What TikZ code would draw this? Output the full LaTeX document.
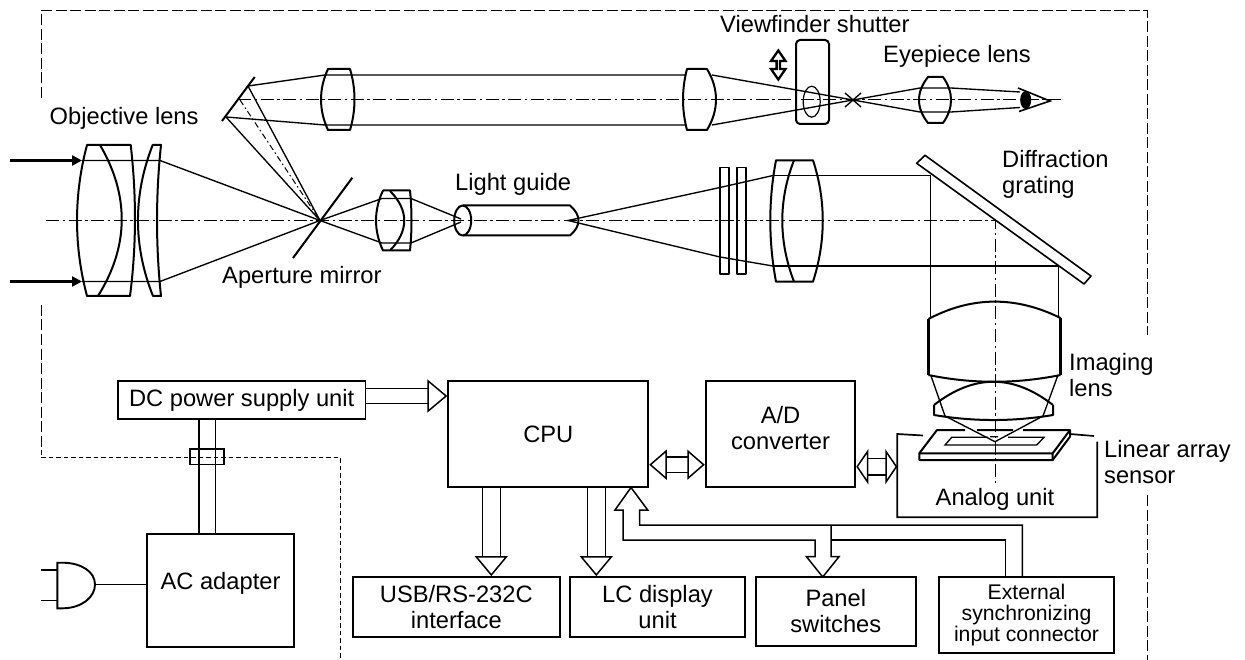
\documentclass[tikz,border=0pt]{standalone}
\usepackage{fontspec}
\setmainfont{Liberation Sans}
\usetikzlibrary{calc, arrows.meta}

\tikzset{
  label/.style={inner sep=0pt, align=left, font=\fontsize{23.7}{26}\selectfont},
  blockbox/.style={draw, line width=1.9pt, inner sep=0pt, align=center, font=\fontsize{23.7}{26}\selectfont},
  lensline/.style={line width=2pt, line join=round},
  ray/.style={line width=1.35pt},
  axisline/.style={line width=1pt, dash pattern=on 13pt off 3.5pt on 2.5pt off 3.5pt},
  longdash/.style={line width=1pt, dash pattern=on 11pt off 3.5pt},
  shortdash/.style={line width=1pt, dash pattern=on 4.5pt off 3pt},
  busline/.style={line width=1.5pt, double=white, double distance=#1},
  bustip/.tip={Triangle[length=20pt, width=33pt, line width=1.5pt, fill=white]},
  sidetip/.tip={Triangle[length=17.5pt, width=30pt, line width=1.5pt, fill=white]},
  shorttip/.tip={Triangle[length=12pt, width=35pt, line width=1.5pt, fill=white]},
}

\begin{document}
\begin{tikzpicture}[x=1pt, y=-1pt]

  \useasboundingbox (0,0) rectangle (1245,660);

  % --- Axes optiques ---
  \pgfmathsetmacro{\axisy}{220.5}
  \pgfmathsetmacro{\viewy}{99.5}

  % --- Enveloppe en tirets ---
  \draw[longdash] (41,98) -- (41,11) -- (1147,11) -- (1147,335);
  \draw[longdash] (1147,495) -- (1147,660);
  \draw[longdash] (41,305) -- (41,455);
  \draw[shortdash] (41,457) -- (340,457) -- (340,660);

  \draw[axisline] (46,\axisy) -- (995,\axisy) -- (995,484);
  \draw[axisline] (238,\viewy) -- (1062,\viewy);
  \draw[line width=1pt, dash pattern=on 6pt off 3pt on 1.5pt off 3pt] (240,100) -- (320,\axisy);

  % --- Faisceaux d'entree ---
  \draw[line width=2.4pt, -{Triangle[length=10pt, width=10pt]}] (10,160.5) -- (82,160.5);
  \draw[line width=2.4pt, -{Triangle[length=10pt, width=10pt]}] (10,281.5) -- (82,281.5);
  \draw[ray] (82,160.5) -- (160,160.5) -- (320,\axisy) -- (382,243) -- (411,243) -- (461,222);
  \draw[ray] (82,281.5) -- (160,281.5) -- (320,\axisy) -- (382,198.5) -- (411,198.5) -- (461,219);

  % --- Objectif ---
  \draw[lensline] (87,145) .. controls (73.7,195) and (73.7,246) .. (87,296) -- (130,296)
    .. controls (136.5,246) and (136.5,195) .. (130.7,145) -- cycle;
  \draw[lensline] (100,145) .. controls (129.3,195) and (129.3,246) .. (98,296);
  \draw[lensline] (152.7,145) .. controls (133,195) and (133,246) .. (153,296) -- (161,296)
    .. controls (155.7,246) and (155.7,195) .. (161,145) -- cycle;

  % --- Miroirs ---
  \draw[lensline] (293,258) -- (352.3,177.7);
  \draw[lensline] (222,121) -- (254.7,77);
  \draw[ray] (320,\axisy) -- (248,86) -- (325,75) -- (685,75);
  \draw[ray] (320,\axisy) -- (226,117) -- (325,125) -- (685,125);

  % --- Viseur ---
  \draw[lensline] (328,69) .. controls (318.7,89) and (318.7,110) .. (328,130) -- (350,130)
    .. controls (356,110) and (356,89) .. (350,69) -- cycle;
  \draw[lensline] (687,69) .. controls (681.7,89) and (681.7,110) .. (687,130) -- (707,130)
    .. controls (719,110) and (719,89) .. (707,69) -- cycle;
  \draw[ray] (712,75) -- (853,100) -- (920,112) -- (951,112) -- (1020,107.5);
  \draw[ray] (712,125) -- (853,100) -- (920,88) -- (951,88) -- (1020,92);
  \draw[ray] (845,93) -- (861,107) (845,107) -- (861,93);
  \draw[lensline, rounded corners=4pt] (796,40) rectangle (829,124);
  \draw[line width=1.2pt] (811.7,101.7) ellipse [x radius=8.5, y radius=15.5];
  \draw[lensline, line width=2.3pt, line join=miter] (778.3,50.5) -- (785.5,61) -- (780,61) -- (780,69) -- (785.5,69) -- (778.3,79.5)
    -- (771,69) -- (776.6,69) -- (776.6,61) -- (771,61) -- cycle;
  \draw[lensline] (928,77) .. controls (916,92) and (916,108) .. (928,123) -- (943,123)
    .. controls (953.7,108) and (953.7,92) .. (943,77) -- cycle;

  % --- Oeil ---
  \draw[ray, line width=1.6pt] (1018,88) -- (1050,101) -- (1019,111.5);
  \fill (1025.7,100) ellipse [x radius=5.5, y radius=9];

  % --- Lentille d'injection et guide de lumiere ---
  \draw[lensline] (383,190.5) .. controls (373.7,210) and (373.7,231) .. (383,250.5) -- (410,250.5)
    .. controls (412,231) and (412,210) .. (410,190.5) -- cycle;
  \draw[lensline] (390,191) .. controls (409,210) and (409,231) .. (390,250.5);
  \draw[lensline] (462.7,220.5) ellipse [x radius=8.5, y radius=15];
  \draw[lensline] (463,205.5) -- (570,205.5) .. controls (581.3,215) and (581.3,226) .. (570,235.5) -- (463,235.5);
  \draw[ray] (773,175.5) -- (720,187.5) -- (568,\axisy) -- (720,257) -- (773,266);

  % --- Filtres et lentille collimatrice ---
  \draw[lensline, line width=1.6pt] (720,167.7) rectangle (729,274);
  \draw[lensline, line width=1.6pt] (736.7,167.7) rectangle (745.7,274);
  \draw[lensline] (776,160.3) .. controls (768.4,200) and (768.4,241) .. (776,281.7) -- (813,281.7)
    .. controls (826,241) and (826,200) .. (813,160.3) -- cycle;
  \draw[lensline] (794,160.3) .. controls (778.4,200) and (778.4,241) .. (794,281.7);
  \draw[ray] (772,175.3) -- (930.7,175.3) -- (930.7,318);
  \draw[ray] (772,266) -- (1058.3,266) -- (1058.3,318);

  % --- Reseau de diffraction ---
  \draw[lensline, fill=white, line width=1.6pt] (925,155.3) -- (916.7,163.3) -- (1084,284) -- (1091,276) -- cycle;

  % --- Lentille de formation d'image ---
  \draw[lensline] (928.5,319) .. controls (972,296) and (1016,296) .. (1060.5,318);
  \draw[lensline] (928.5,375) .. controls (972,384) and (1016,384) .. (1060.5,375);
  \draw[lensline, line width=2.4pt] (928.5,319) -- (928.5,375) (1060.5,318) -- (1060.5,375);
  \draw[lensline] (934,405) .. controls (974,374) and (1013,374) .. (1053,405);
  \draw[lensline] (934,405) -- (934,415) .. controls (974,421.7) and (1013,421.7) .. (1053,415) -- (1053,405);
  \draw[ray] (930.7,375) -- (945,416) -- (995,441.7) -- (1043,416) -- (1058,375);

  % --- Capteur lineaire ---
  \draw[lensline] (965,430) -- (937,430) -- (919.3,453.3) -- (919.3,460) -- (1052.7,460) -- (1070,436.7)
    -- (1070,430) -- (1023,430) (977,430) -- (1013,430);
  \draw[lensline] (919.3,453.3) -- (1052.7,453.3) -- (1070,430) (1052.7,453.3) -- (1052.7,460);
  \draw[ray] (988,437.3) -- (951.7,437.3) -- (945,445) -- (1036.7,445) -- (1044,437.3) -- (1008,437.3) (990,436.7) -- (998,436.7);
  \draw[line width=1.7pt] (923,435.5) -- (897.3,434) -- (897.3,517.3) -- (1097.3,517.3) -- (1097.3,441.7);
  \draw[line width=1.7pt] (1070,434) -- (1094,436);

  % --- Blocs electroniques ---
  \node[blockbox, minimum width=247.5pt, minimum height=38pt] (dcsupply) at (241.7,400) {DC power supply unit};
  \node[blockbox, minimum width=147pt, minimum height=113pt, text depth=0pt] (acadapter) at (220.5,590.5) {};
  \node[label] (aclabel) at (220.5,583) {AC adapter};
  \node[blockbox, minimum width=200pt, minimum height=106.6pt] (cpu) at (548.3,434) {CPU};
  \node[blockbox, minimum width=149.6pt, minimum height=106.6pt] (adconv) at (780.5,434) {};
  \node[label, align=center] (adlabel) at (780.5,428) {A/D\\converter};
  \node[blockbox, minimum width=207.3pt, minimum height=60.3pt] (usbif) at (456.3,607.2) {USB/RS-232C\\interface};
  \node[blockbox, minimum width=175pt, minimum height=60.3pt] (lcunit) at (657.5,607.2) {LC display\\unit};
  \node[blockbox, minimum width=160.3pt, minimum height=68.7pt] (panelsw) at (835.8,611.3) {Panel\\switches};
  \node[blockbox, minimum width=175pt, minimum height=76pt, font=\fontsize{21.2}{21}\selectfont] (extsync) at (1026.5,615) {External\\synchronizing\\input connector};

  % --- Liaisons ---
  \coordinate (busdc) at (0,396);
  \coordinate (busad) at (0,464.7);
  \coordinate (busan) at (0,466.7);
  \coordinate (analogleft) at (897.3,466.7);
  \coordinate (bususb) at (491.3,0);
  \coordinate (buslc) at (596.3,0);
  \draw[busline=13.2pt, -bustip] (dcsupply.east |- busdc) -- (cpu.west |- busdc);
  \draw[busline=13.6pt, sidetip-sidetip] (cpu.east |- busad) -- (adconv.west |- busad);
  \draw[busline=14.6pt, shorttip-shorttip] (adconv.east |- busan) -- (analogleft);
  \draw[busline=16.6pt, -bustip] (cpu.south -| bususb) -- (usbif.north -| bususb);
  \draw[busline=16.6pt, -bustip] (cpu.south -| buslc) -- (lcunit.north -| buslc);

  % --- Bus vers les interrupteurs et le connecteur ---
  \draw[line width=1.5pt] (1022.3,577) -- (1022.3,525) -- (639.7,525) -- (639.7,510) -- (647.7,510) -- (631,487.5)
    -- (615,510) -- (623,510) -- (623,540) -- (815,540) -- (815,556.7) -- (806.5,556.7) -- (822.7,577)
    -- (839,556.7) -- (831,556.7) -- (831,525);
  \draw[line width=1.5pt] (831,540) -- (1005.5,540) -- (1005.5,577);

  % --- Alimentation et prise ---
  \coordinate (cablel) at (199,0);
  \coordinate (cabler) at (215.5,0);
  \coordinate (plugtip) at (95,584.5);
  \draw[line width=1.9pt] (dcsupply.south -| cablel) -- (acadapter.north -| cablel);
  \draw[line width=1.9pt] (dcsupply.south -| cabler) -- (acadapter.north -| cabler);
  \draw[line width=1.7pt] (190,449) rectangle (224,464.6);
  \draw[line width=1.9pt] (plugtip) -- (acadapter.west |- plugtip);
  \draw[line width=1.9pt] (57.3,562.7) -- (63,562.7) .. controls (82,563) and (95,572) .. (plugtip)
    .. controls (95,597) and (82,608) .. (63,608.3) -- (57.3,608.3) -- cycle;
  \draw[ray] (41,570) -- (57.3,570) (41,600.7) -- (57.3,600.7);

  % --- Etiquettes ---
  \node[label, anchor=west] (objlabel) at (49.5,118) {Objective lens};
  \node[label, anchor=west] (aperlabel) at (222,277) {Aperture mirror};
  \node[label, anchor=west] (guidelabel) at (455,184) {Light guide};
  \node[label, anchor=west] (shutlabel) at (720,24) {Viewfinder shutter};
  \node[label, anchor=west] (eyelabel) at (883,56) {Eyepiece lens};
  \node[label, anchor=west] (gratlabel) at (1002,174.5) {Diffraction\\grating};
  \node[label, anchor=west] (imaglabel) at (1069,375) {Imaging\\lens};
  \node[label, anchor=west] (senslabel) at (1104,462) {Linear array\\sensor};
  \node[label] (analoglabel) at (995,499) {Analog unit};

\end{tikzpicture}
\end{document}
